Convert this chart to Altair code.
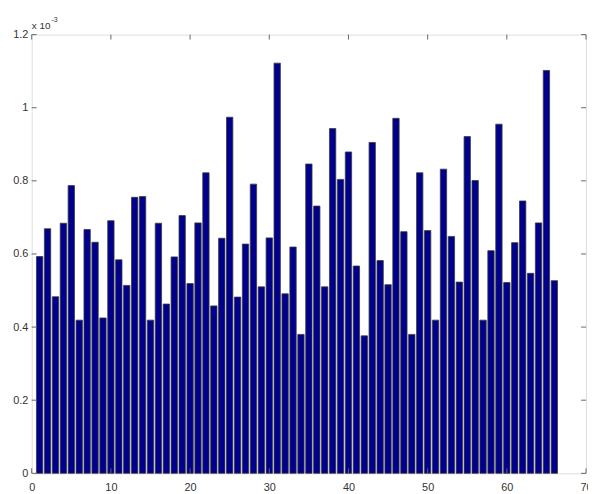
import altair as alt
import pandas as pd

# bar heights (in units of 1e-3), bars at x = 1..66
values = [0.593, 0.669, 0.483, 0.684, 0.787, 0.419, 0.667, 0.632, 0.425, 0.691,
          0.584, 0.514, 0.755, 0.757, 0.419, 0.684, 0.463, 0.592, 0.705, 0.519,
          0.685, 0.822, 0.458, 0.643, 0.974, 0.482, 0.627, 0.791, 0.510, 0.644,
          1.122, 0.491, 0.619, 0.380, 0.846, 0.731, 0.510, 0.943, 0.804, 0.879,
          0.567, 0.376, 0.905, 0.582, 0.516, 0.971, 0.661, 0.380, 0.822, 0.664,
          0.419, 0.832, 0.648, 0.523, 0.921, 0.801, 0.419, 0.609, 0.955, 0.522,
          0.631, 0.745, 0.547, 0.685, 1.102, 0.527]
positions = list(range(1, len(values) + 1))
x_ticks = [0, 10, 20, 30, 40, 50, 60, 70]
y_ticks = [0, 0.2, 0.4, 0.6, 0.8, 1.0, 1.2]

W, H = 561, 444
BAR_HALF = 0.4

df = pd.DataFrame({"x": positions, "v": values})
xt = pd.DataFrame({"t": x_ticks})
yt = pd.DataFrame({"t": y_ticks})

xscale = alt.Scale(domain=[0, 70], nice=False, zero=False)
yscale = alt.Scale(domain=[0, 1.2], nice=False)

font = "Liberation Sans"

bars = alt.Chart(df).transform_calculate(
    x0=f"datum.x - {BAR_HALF}", x1=f"datum.x + {BAR_HALF}"
).mark_bar(color="#00008C", stroke="#3a3a3a", strokeWidth=0.8).encode(
    x=alt.X("x0:Q", scale=xscale, title=None,
            axis=alt.Axis(values=x_ticks, grid=False, ticks=False, domain=False,
                          labelPadding=8, labelFontSize=11, labelFont=font,
                          labelColor="#333333", labelFlush=False, labelOverlap=False)),
    x2="x1:Q",
    y=alt.Y("v:Q", scale=yscale, title=None,
            axis=alt.Axis(values=y_ticks, grid=False, ticks=False, domain=False,
                          labelPadding=4, labelFontSize=11, labelFont=font,
                          labelColor="#333333", labelFlush=False, labelOverlap=False,
                          labelExpr="toString(round(datum.value*10)/10)")),
    y2=alt.datum(0),
)

tick_color = "#666666"
bottom_ticks = alt.Chart(xt).mark_rule(color=tick_color, strokeWidth=1).encode(
    x=alt.X("t:Q", scale=xscale), y=alt.value(H), y2=alt.value(H - 5))
top_ticks = alt.Chart(xt).mark_rule(color=tick_color, strokeWidth=1).encode(
    x=alt.X("t:Q", scale=xscale), y=alt.value(0), y2=alt.value(5))
left_ticks = alt.Chart(yt).mark_rule(color=tick_color, strokeWidth=1).encode(
    y=alt.Y("t:Q", scale=yscale), x=alt.value(0), x2=alt.value(5))
right_ticks = alt.Chart(yt).mark_rule(color=tick_color, strokeWidth=1).encode(
    y=alt.Y("t:Q", scale=yscale), x=alt.value(W), x2=alt.value(W - 5))

one = pd.DataFrame({"a": [0]})
mult = alt.Chart(one).mark_text(align="left", baseline="middle", fontSize=10,
                                font=font, color="#333333").encode(
    x=alt.value(0), y=alt.value(-9), text=alt.value("x 10"))
expo = alt.Chart(one).mark_text(align="left", baseline="middle", fontSize=7,
                                font=font, color="#333333").encode(
    x=alt.value(20), y=alt.value(-15), text=alt.value("-3"))

chart = alt.layer(bars, bottom_ticks, top_ticks, left_ticks, right_ticks, mult, expo).properties(
    width=W, height=H,
    autosize=alt.AutoSizeParams(type="none"),
    padding={"left": 24, "top": 24, "right": 2, "bottom": 18},
).configure_view(stroke="#666666", strokeWidth=1).configure(background="white")

chart.save("out.html", embed_options={"renderer": "svg", "actions": False})
